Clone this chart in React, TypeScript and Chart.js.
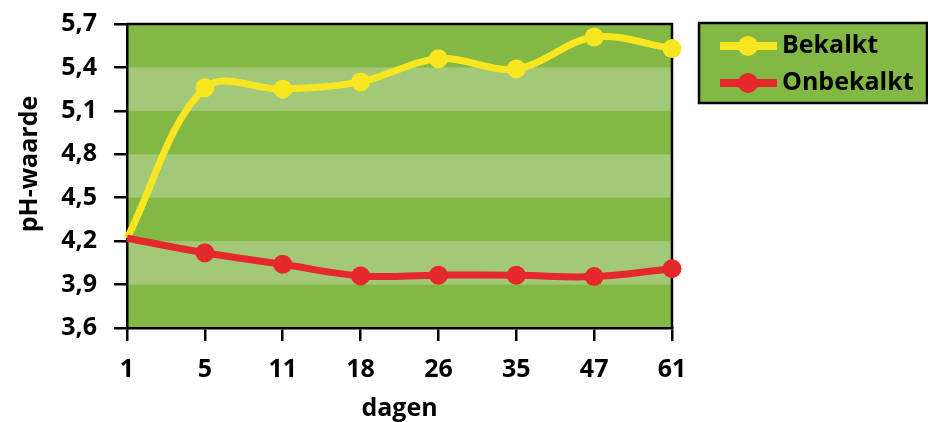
import React, { useEffect, useRef } from "react";
import { Chart, registerables } from "chart.js";

Chart.register(...registerables);

// ---- data ----
const days = ["1", "5", "11", "18", "26", "35", "47", "61"];
const bekalkt = [4.22, 5.26, 5.25, 5.3, 5.46, 5.39, 5.61, 5.53];
const onbekalkt = [4.22, 4.12, 4.04, 3.96, 3.965, 3.965, 3.955, 4.01];
const yTicks = [3.6, 3.9, 4.2, 4.5, 4.8, 5.1, 5.4, 5.7];
const lightBands = [
  [3.9, 4.2],
  [4.5, 4.8],
  [5.1, 5.4],
];
const seriesNames = ["Bekalkt", "Onbekalkt"];
const xTitle = "dagen";
const yTitle = "pH-waarde";

// ---- styles ----
const FONT = "'Open Sans', 'Noto Sans', sans-serif";
const YELLOW = "#f7e620";
const RED = "#e4282b";
const DARK = "#82b843";
const LIGHT = "#a3c978";

const bandsPlugin = {
  id: "bands",
  beforeDraw(chart: any) {
    const { ctx, chartArea, scales } = chart;
    const y = scales.y;
    ctx.save();
    ctx.fillStyle = DARK;
    ctx.fillRect(chartArea.left, chartArea.top, chartArea.right - chartArea.left, chartArea.bottom - chartArea.top);
    ctx.fillStyle = LIGHT;
    for (const [lo, hi] of lightBands) {
      const y1 = y.getPixelForValue(hi);
      const y2 = y.getPixelForValue(lo);
      ctx.fillRect(chartArea.left, y1, chartArea.right - chartArea.left, y2 - y1);
    }
    ctx.restore();
  },
  beforeDatasetsDraw(chart: any) {
    const { ctx, chartArea } = chart;
    ctx.save();
    ctx.strokeStyle = "#000";
    ctx.lineWidth = 2.5;
    ctx.beginPath();
    ctx.moveTo(chartArea.left, chartArea.top);
    ctx.lineTo(chartArea.right, chartArea.top);
    ctx.lineTo(chartArea.right, chartArea.bottom);
    ctx.stroke();
    ctx.restore();
  },
  afterDraw(chart: any) {
    const { ctx, chartArea } = chart;
    ctx.save();
    // axis titles
    ctx.fillStyle = "#000";
    ctx.font = `bold 25px ${FONT}`;
    ctx.textAlign = "center";
    ctx.textBaseline = "alphabetic";
    ctx.fillText(xTitle, (chartArea.left + chartArea.right) / 2, 416);
    ctx.save();
    ctx.translate(37, 164);
    ctx.rotate(-Math.PI / 2);
    ctx.fillText(yTitle, 0, 0);
    ctx.restore();

    // legend
    const bx = 699, by = 23, bw = 228, bh = 80;
    ctx.fillStyle = DARK;
    ctx.fillRect(bx, by, bw, bh);
    ctx.strokeStyle = "#000";
    ctx.lineWidth = 2.5;
    ctx.strokeRect(bx, by, bw, bh);
    const rows = [46, 83];
    chart.data.datasets.forEach((ds: any, i: number) => {
      const yy = rows[i];
      ctx.strokeStyle = ds.borderColor;
      ctx.lineWidth = 8;
      ctx.beginPath();
      ctx.moveTo(720, yy);
      ctx.lineTo(777, yy);
      ctx.stroke();
      ctx.fillStyle = ds.borderColor;
      ctx.beginPath();
      ctx.arc(748, yy, 10, 0, Math.PI * 2);
      ctx.fill();
      ctx.fillStyle = "#000";
      ctx.font = `bold 25px ${FONT}`;
      ctx.textAlign = "left";
      ctx.textBaseline = "middle";
      ctx.fillText(ds.label, 782, yy);
    });
    ctx.restore();
  },
};

export default function App() {
  const ref = useRef<HTMLCanvasElement | null>(null);

  useEffect(() => {
    if (!ref.current) return;
    const radius = (c: any) => (c.dataIndex === 0 ? 0 : 9.5);
    const chart = new Chart(ref.current, {
      type: "line",
      data: {
        labels: days,
        datasets: [
          {
            label: seriesNames[0],
            data: bekalkt,
            borderColor: YELLOW,
            backgroundColor: YELLOW,
            pointBackgroundColor: YELLOW,
            pointBorderWidth: 0,
            pointRadius: radius,
            borderWidth: 7,
            tension: 0.35,
            clip: false,
            order: 2,
          },
          {
            label: seriesNames[1],
            data: onbekalkt,
            borderColor: RED,
            backgroundColor: RED,
            pointBackgroundColor: RED,
            pointBorderWidth: 0,
            pointRadius: radius,
            borderWidth: 7,
            tension: 0.4,
            clip: false,
            order: 1,
          },
        ],
      },
      options: {
        animation: false,
        responsive: true,
        maintainAspectRatio: false,
        layout: { padding: { top: 24, right: 256, bottom: 0, left: 0 } },
        plugins: { legend: { display: false }, tooltip: { enabled: false } },
        scales: {
          x: {
            type: "category",
            offset: false,
            afterFit: (s: any) => {
              s.height = 94;
            },
            grid: {
              offset: false,
              drawOnChartArea: false,
              drawTicks: true,
              tickLength: 13,
              color: "#000",
              lineWidth: 2.5,
            },
            border: { color: "#000", width: 2.5 },
            ticks: {
              color: "#000",
              padding: 14,
              maxRotation: 0,
              autoSkip: false,
              font: { family: FONT, size: 25, weight: "bold" },
            },
          },
          y: {
            min: 3.6,
            max: 5.7,
            afterFit: (s: any) => {
              s.width = 127;
              s.paddingTop = 10;
              s.paddingBottom = 10;
            },
            afterBuildTicks: (s: any) => {
              s.ticks = yTicks.map((v) => ({ value: v }));
            },
            grid: {
              drawOnChartArea: false,
              drawTicks: true,
              tickLength: 13,
              color: "#000",
              lineWidth: 2.5,
            },
            border: { color: "#000", width: 2.5 },
            ticks: {
              color: "#000",
              padding: 17,
              callback: (v: any) => Number(v).toFixed(1).replace(".", ","),
              font: { family: FONT, size: 25, weight: "bold" },
            },
          },
        },
      },
      plugins: [bandsPlugin],
    } as any);
    return () => chart.destroy();
  }, []);

  return (
    <div style={{ position: "fixed", left: 0, top: 0, width: 928, height: 422, background: "#fff" }}>
      <canvas ref={ref} />
    </div>
  );
}
